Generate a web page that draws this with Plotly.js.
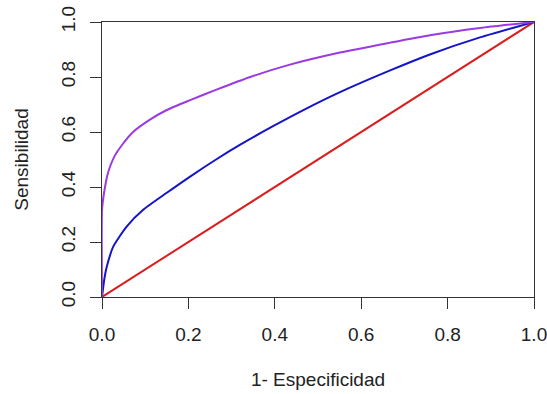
<!DOCTYPE html>
<html>
<head>
<meta charset="utf-8">
<script src="https://cdn.plot.ly/plotly-3.0.1.min.js"></script>
<style>
html,body{margin:0;padding:0;background:#fff;}
#chart{width:547px;height:394px;}
</style>
</head>
<body>
<div id="chart"></div>
<script>
// Diagonal (random classifier)
const redX = [0, 1];
const redY = [0, 1];

// Moderate curve (blue)
const blueX = [0, 0.004, 0.007, 0.011, 0.026, 0.057, 0.096, 0.15, 0.204, 0.265, 0.319, 0.397, 0.474, 0.551, 0.667, 0.759, 0.875, 1];
const blueY = [0, 0.05, 0.08, 0.11, 0.183, 0.256, 0.318, 0.379, 0.438, 0.501, 0.553, 0.622, 0.686, 0.745, 0.824, 0.882, 0.944, 1];

// Good curve (purple)
const purpleX = [0, 0, 0.003, 0.007, 0.012, 0.02, 0.03, 0.045, 0.072, 0.111, 0.15, 0.204, 0.265, 0.343, 0.435, 0.551, 0.667, 0.759, 0.875, 1];
const purpleY = [0, 0.316, 0.36, 0.40, 0.44, 0.48, 0.515, 0.55, 0.6, 0.645, 0.68, 0.716, 0.754, 0.80, 0.845, 0.889, 0.925, 0.952, 0.978, 1];

const tickVals = [0, 0.2, 0.4, 0.6, 0.8, 1.0];
const tickText = ["0.0", "0.2", "0.4", "0.6", "0.8", "1.0"];

const xTitle = "1- Especificidad";
const yTitle = "Sensibilidad";

const font = {family: "Liberation Sans, Arial, sans-serif", size: 19, color: "#222"};

const traces = [
  {x: redX, y: redY, mode: "lines", line: {color: "#d81e1e", width: 2}, hoverinfo: "skip"},
  {x: blueX, y: blueY, mode: "lines", line: {color: "#1414c8", width: 2, shape: "spline", smoothing: 0.6}, hoverinfo: "skip"},
  {x: purpleX, y: purpleY, mode: "lines", line: {color: "#9b3ae0", width: 2, shape: "spline", smoothing: 0.6}, hoverinfo: "skip"}
];

const axisCommon = {
  range: [0, 1],
  tickvals: tickVals,
  ticktext: tickText,
  ticks: "outside",
  ticklen: 11,
  tickwidth: 1,
  tickcolor: "#333",
  showline: true,
  linecolor: "#333",
  linewidth: 1,
  mirror: true,
  showgrid: false,
  zeroline: false,
  tickfont: font,
  ticklabeloverflow: "allow"
};

const layout = {
  width: 547,
  height: 394,
  margin: {l: 102, r: 13, t: 22, b: 97},
  paper_bgcolor: "#fff",
  plot_bgcolor: "#fff",
  showlegend: false,
  font: font,
  xaxis: Object.assign({}, axisCommon, {
    ticklabelstandoff: 9,
    title: {text: xTitle, font: font, standoff: 28}
  }),
  yaxis: Object.assign({}, axisCommon, {
    ticklabelstandoff: 7,
    tickangle: -90,
    title: {text: yTitle, font: font, standoff: 24}
  })
};

Plotly.newPlot("chart", traces, layout, {staticPlot: true, displayModeBar: false});
</script>
</body>
</html>
